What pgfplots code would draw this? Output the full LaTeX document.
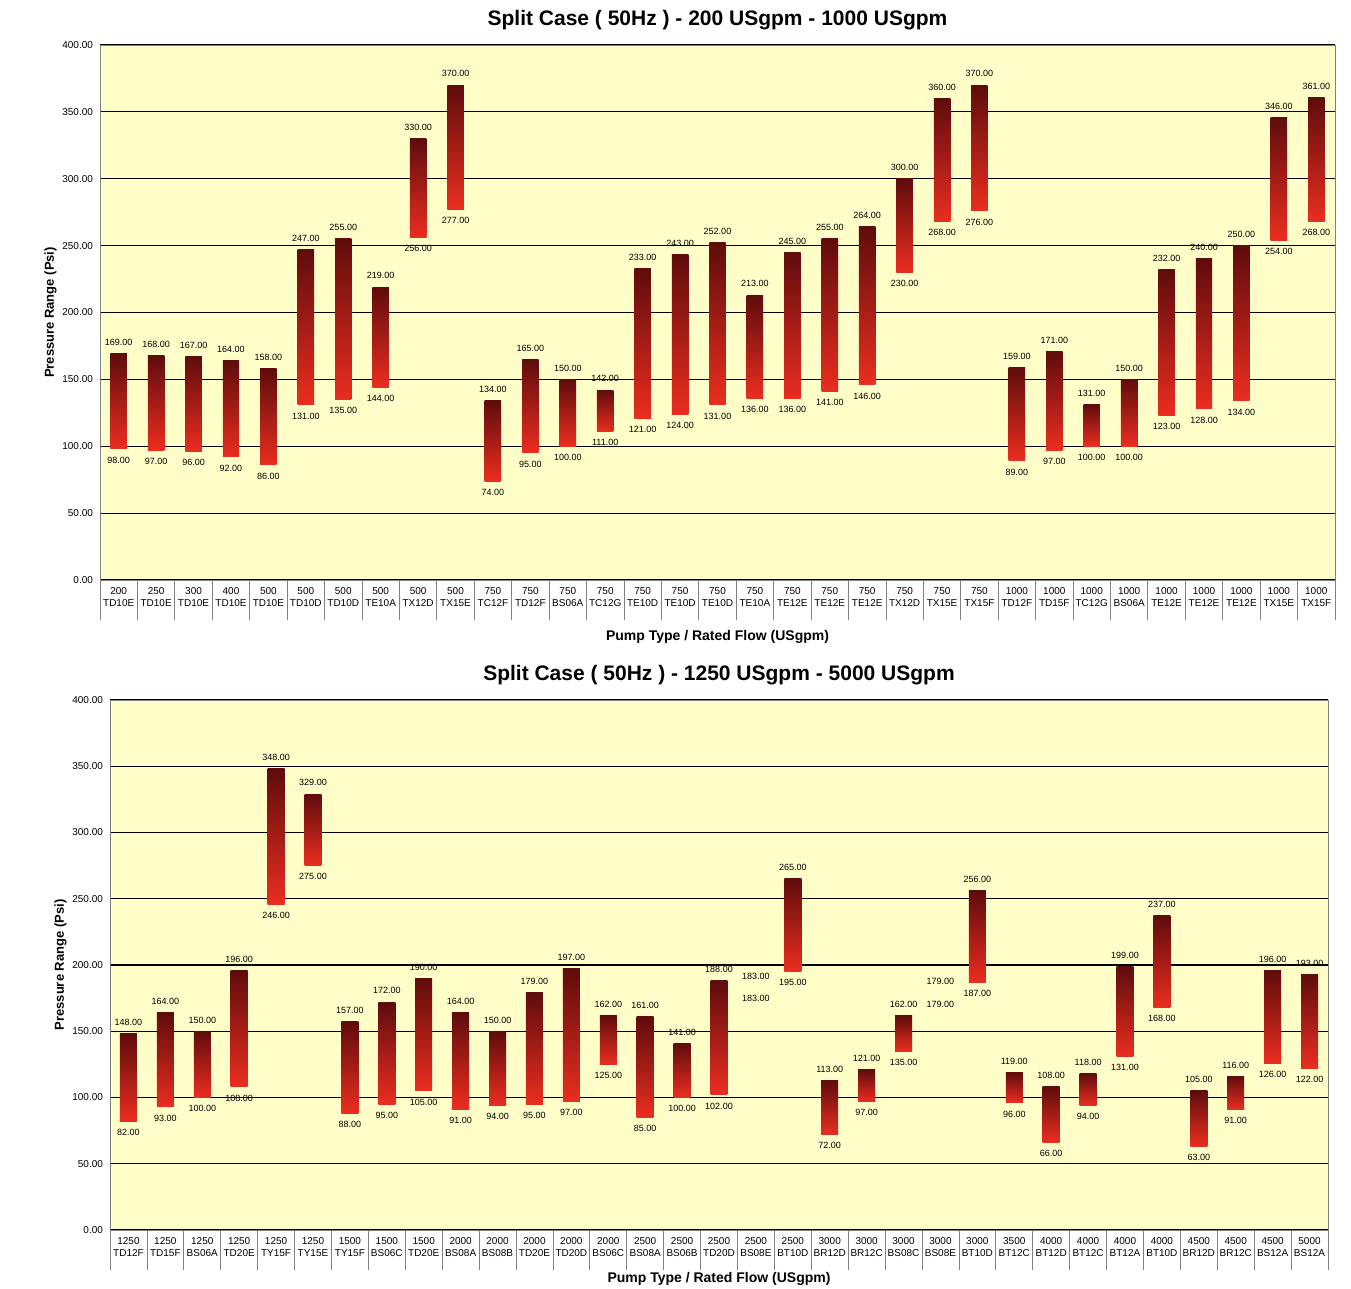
\documentclass[border=0pt]{standalone}
\usepackage{pgfplots}
\usepackage{pgfplotstable}
\pgfplotsset{compat=1.18}
\usepackage{fontspec}
\setmainfont{Liberation Sans}
\definecolor{bg}{RGB}{255,253,200}
\definecolor{bartop}{RGB}{95,12,12}
\definecolor{barbot}{RGB}{235,45,32}
\pgfplotstableread{
x lo hi
0 98 169
1 97 168
2 96 167
3 92 164
4 86 158
5 131 247
6 135 255
7 144 219
8 256 330
9 277 370
10 74 134
11 95 165
12 100 150
13 111 142
14 121 233
15 124 243
16 131 252
17 136 213
18 136 245
19 141 255
20 146 264
21 230 300
22 268 360
23 276 370
24 89 159
25 97 171
26 100 131
27 100 150
28 123 232
29 128 240
30 134 250
31 254 346
32 268 361
}\topdata
\pgfplotstableread{
x lo hi
0 82 148
1 93 164
2 100 150
3 108 196
4 246 348
5 275 329
6 88 157
7 95 172
8 105 190
9 91 164
10 94 150
11 95 179
12 97 197
13 125 162
14 85 161
15 100 141
16 102 188
17 183 183
18 195 265
19 72 113
20 97 121
21 135 162
22 179 179
23 187 256
24 96 119
25 66 108
26 94 118
27 131 199
28 168 237
29 63 105
30 91 116
31 126 196
32 122 193
}\botdata
\newcommand\bars[2]{%
  \pgfplotsinvokeforeach{0,...,32}{%
    \pgfplotstablegetelem{##1}{lo}\of#1\edef\lo{\pgfplotsretval}%
    \pgfplotstablegetelem{##1}{hi}\of#1\edef\hi{\pgfplotsretval}%
    \edef\tmp{\noexpand\addplot[draw=none, top color=bartop, bottom color=barbot] coordinates {(##1-#2,\lo) (##1+#2,\lo) (##1+#2,\hi) (##1-#2,\hi)} -- cycle;}%
    \tmp
  }%
  \addplot[draw=none, mark=none, nodes near coords, point meta=explicit, every node near coord/.append style={anchor=south, yshift=0.5pt}] table[x=x, y=hi, meta=hi] {#1};
  \addplot[draw=none, mark=none, nodes near coords, point meta=explicit, every node near coord/.append style={anchor=north, yshift=-0.5pt}] table[x=x, y=lo, meta=lo] {#1};
}
\pgfplotsset{
  chart/.style={
    scale only axis,
    axis background/.style={fill=bg},
    axis line style={gray},
    xmin=-0.5, xmax=32.5, ymin=0, ymax=400,
    ytick={0,50,...,400}, ymajorgrids, grid style={black, line width=0.6pt},
    /pgf/number format/fixed, /pgf/number format/fixed zerofill, /pgf/number format/precision=2, /pgf/number format/assume math mode=true,
    yticklabel style={font=\fontsize{5}{6}\selectfont},
    xtick={0,...,32}, major tick length=0pt, xtick pos=lower, ytick pos=left,
    xticklabel style={font=\fontsize{5}{6}\selectfont, align=center},
    extra x ticks={-0.5,0.5,...,32.5}, extra x tick labels={},
    extra x tick style={tick align=outside, major tick length=20pt, tick style={gray, line width=0.4pt}, grid=none, xtick pos=lower},
    ylabel={\bfseries Pressure Range (Psi)}, ylabel style={font=\fontsize{6.5}{7}\selectfont, yshift=-4pt},
    xlabel={\bfseries Pump Type / Rated Flow (USgpm)},
    title style={font=\bfseries\fontsize{10.5}{12}\selectfont, yshift=-2pt},
    nodes near coords style={font=\fontsize{4.5}{5}\selectfont},
  },
}
\begin{document}
\begin{tikzpicture}
\path[use as bounding box] (0,0) rectangle (675.5pt,-644.5pt);
\begin{axis}[chart, at={(50pt,-22.5pt)}, anchor=north west, width=617.5pt, height=267.5pt,
  xlabel style={font=\fontsize{7}{8}\selectfont, at={(axis description cs:0.5,0)}, anchor=center, yshift=-28.5pt},
  title={Split Case ( 50Hz ) - 200 USgpm - 1000 USgpm},
  xticklabels={{200\\TD10E},{250\\TD10E},{300\\TD10E},{400\\TD10E},{500\\TD10E},{500\\TD10D},{500\\TD10D},{500\\TE10A},{500\\TX12D},{500\\TX15E},{750\\TC12F},{750\\TD12F},{750\\BS06A},{750\\TC12G},{750\\TE10D},{750\\TE10D},{750\\TE10D},{750\\TE10A},{750\\TE12E},{750\\TE12E},{750\\TE12E},{750\\TX12D},{750\\TX15E},{750\\TX15F},{1000\\TD12F},{1000\\TD15F},{1000\\TC12G},{1000\\BS06A},{1000\\TE12E},{1000\\TE12E},{1000\\TE12E},{1000\\TX15E},{1000\\TX15F}}]
\bars{\topdata}{0.22}
\end{axis}
\begin{axis}[chart, at={(55pt,-350pt)}, anchor=north west, width=609pt, height=265pt,
  xlabel style={font=\fontsize{7}{8}\selectfont, at={(axis description cs:0.5,0)}, anchor=center, yshift=-24.5pt},
  title={Split Case ( 50Hz ) - 1250 USgpm - 5000 USgpm},
  xticklabels={{1250\\TD12F},{1250\\TD15F},{1250\\BS06A},{1250\\TD20E},{1250\\TY15F},{1250\\TY15E},{1500\\TY15F},{1500\\BS06C},{1500\\TD20E},{2000\\BS08A},{2000\\BS08B},{2000\\TD20E},{2000\\TD20D},{2000\\BS06C},{2500\\BS08A},{2500\\BS06B},{2500\\TD20D},{2500\\BS08E},{2500\\BT10D},{3000\\BR12D},{3000\\BR12C},{3000\\BS08C},{3000\\BS08E},{3000\\BT10D},{3500\\BT12C},{4000\\BT12D},{4000\\BT12C},{4000\\BT12A},{4000\\BT10D},{4500\\BR12D},{4500\\BR12C},{4500\\BS12A},{5000\\BS12A}}]
\bars{\botdata}{0.23}
\end{axis}
\end{tikzpicture}
\end{document}
